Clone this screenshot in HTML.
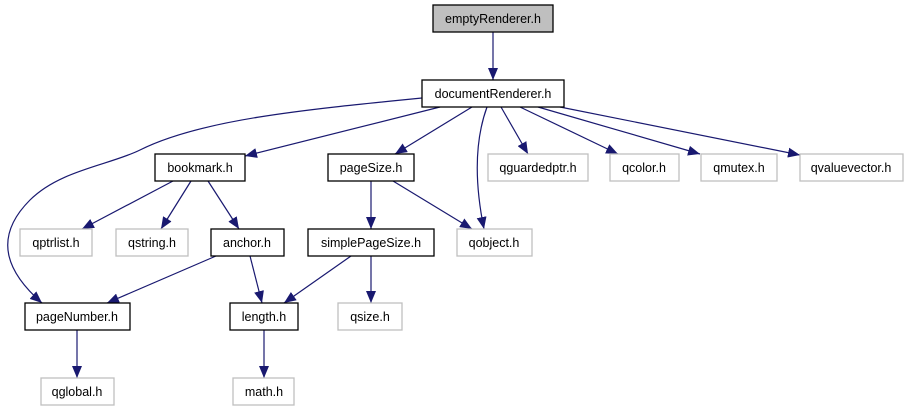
<!DOCTYPE html>
<html><head><meta charset="utf-8"><style>
body{margin:0;background:#fff;width:907px;height:411px;overflow:hidden}
text{font-family:"Liberation Sans",sans-serif;font-size:12.5px;text-anchor:middle;fill:#000}
</style></head><body>
<svg width="907" height="411" xmlns="http://www.w3.org/2000/svg">
<defs><marker id="a" markerWidth="12" markerHeight="10" refX="12" refY="5" orient="auto" markerUnits="userSpaceOnUse"><path d="M0,0 L12,5 L0,10 z" fill="#191970"/></marker></defs>
<g fill="none" stroke="#191970" stroke-width="1.2" marker-end="url(#a)">
<path d="M493,32 L493,80"/>
<path d="M422,98 C300,110 200,120 140,150 C110,165 60,170 30,200 C-10,240 10,275 42,303"/>
<path d="M440,107 L245,156"/>
<path d="M472,107 L395,154"/>
<path d="M487,107 C475,140 474,180 484,229"/>
<path d="M501,107 L528,154"/>
<path d="M520,107 L618,154"/>
<path d="M538,107 L700,154"/>
<path d="M560,107 L800,155"/>
<path d="M173,181 L82,229"/>
<path d="M191,181 L161,229"/>
<path d="M208,181 L239,229"/>
<path d="M371,181 L371,229"/>
<path d="M393,181 L472,229"/>
<path d="M216,256 L107,303"/>
<path d="M250,256 L262,303"/>
<path d="M351,256 L284,303"/>
<path d="M371,256 L371,303"/>
<path d="M77,330 L77,378"/>
<path d="M264,330 L264,378"/>
</g>
<g stroke-width="1.3">
<rect x="433" y="5" width="120" height="27" fill="#bfbfbf" stroke="#000"/>
<rect x="422" y="80" width="142" height="27" fill="#fff" stroke="#000"/>
<rect x="155" y="154" width="90" height="27" fill="#fff" stroke="#000"/>
<rect x="328" y="154" width="86" height="27" fill="#fff" stroke="#000"/>
<rect x="211" y="229" width="73" height="27" fill="#fff" stroke="#000"/>
<rect x="308" y="229" width="126" height="27" fill="#fff" stroke="#000"/>
<rect x="25" y="303" width="105" height="27" fill="#fff" stroke="#000"/>
<rect x="230" y="303" width="68" height="27" fill="#fff" stroke="#000"/>
</g>
<g fill="#fff" stroke="#bfbfbf" stroke-width="1.3">
<rect x="488" y="154" width="100" height="27"/>
<rect x="610" y="154" width="69" height="27"/>
<rect x="701" y="154" width="76" height="27"/>
<rect x="800" y="154" width="103" height="27"/>
<rect x="20" y="229" width="72" height="27"/>
<rect x="116" y="229" width="72" height="27"/>
<rect x="457" y="229" width="75" height="27"/>
<rect x="338" y="303" width="64" height="27"/>
<rect x="41" y="378" width="73" height="27"/>
<rect x="233" y="378" width="61" height="27"/>
</g>
<text x="493" y="23">emptyRenderer.h</text>
<text x="493" y="98">documentRenderer.h</text>
<text x="200" y="172">bookmark.h</text>
<text x="371" y="172">pageSize.h</text>
<text x="538" y="172">qguardedptr.h</text>
<text x="644" y="172">qcolor.h</text>
<text x="739" y="172">qmutex.h</text>
<text x="851" y="172">qvaluevector.h</text>
<text x="56" y="247">qptrlist.h</text>
<text x="152" y="247">qstring.h</text>
<text x="247" y="247">anchor.h</text>
<text x="371" y="247">simplePageSize.h</text>
<text x="494" y="247">qobject.h</text>
<text x="77" y="321">pageNumber.h</text>
<text x="264" y="321">length.h</text>
<text x="370" y="321">qsize.h</text>
<text x="77" y="396">qglobal.h</text>
<text x="264" y="396">math.h</text>
</svg>
</body></html>
